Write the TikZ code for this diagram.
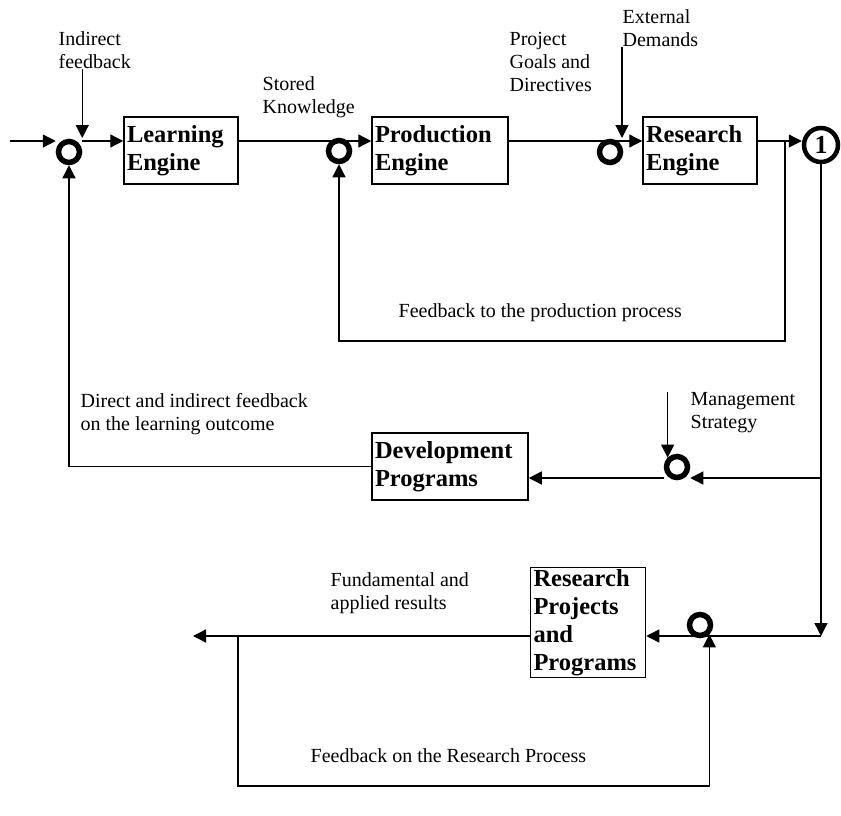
\documentclass[tikz,border=0pt]{standalone}
\usepackage{fontspec}
\setmainfont{Liberation Serif}
\usetikzlibrary{arrows.meta, positioning}

\begin{document}
\begin{tikzpicture}[
    x=1pt, y=-1pt,
    line width=1.3pt,
    flow/.style={-{Triangle[length=13pt,width=13pt]}},
    engine/.style={draw, line width=1.5pt, inner sep=2pt, align=left, font=\fontsize{24.5}{28}\selectfont\bfseries},
    sumnode/.style={circle, draw, fill=white, line width=5.5pt, minimum size=21pt, inner sep=0pt},
    note/.style={anchor=north west, inner sep=0pt, align=left, font=\fontsize{20}{23}\selectfont}
]
\useasboundingbox (0,0) rectangle (841,816);

% Signal rows
\coordinate (row1) at (0,141);
\coordinate (row3) at (0,478);
\coordinate (row4) at (0,636);

% Engines and programs
\node[engine, minimum width=114pt, minimum height=67pt, text width=108pt] (learn) at (181,150.5) {Learning\\Engine};
\node[engine, minimum width=136pt, minimum height=67pt, text width=130pt] (prod) at (440,150.5) {Production\\Engine};
\node[engine, minimum width=114pt, minimum height=67pt, text width=108pt] (res) at (700,150.5) {Research\\Engine};
\node[engine, minimum width=156pt, minimum height=67pt, text width=150pt] (dev) at (450,466.5) {Development\\Programs};
\node[engine, minimum width=115pt, minimum height=109pt, text width=109pt] (rpp) at (588,622.5) {Research\\Projects\\and\\Programs};

% Summing points
\node[sumnode] (s1) at (69,152) {};
\node[sumnode] (s2) at (339,151) {};
\node[sumnode] (s3) at (610,152) {};
\node[sumnode] (s4) at (677,467) {};
\node[sumnode] (s5) at (700,625) {};
\node[sumnode, line width=4.5pt, minimum size=34pt, font=\fontsize{26}{26}\selectfont\bfseries] (c1) at (821,145) {1};

% Labels
\node[note] (lblIndirect) at (58,31) {Indirect\\feedback};
\node[note] (lblStored) at (262,76) {Stored\\Knowledge};
\node[note] (lblGoals) at (509,32) {Project\\Goals and\\Directives};
\node[note] (lblExternal) at (622,9) {External\\Demands};
\node[note] (lblProd) at (398,303) {Feedback to the production process};
\node[note] (lblDirect) at (80,393) {Direct and indirect feedback\\on the learning outcome};
\node[note] (lblMgmt) at (690,392) {Management\\Strategy};
\node[note] (lblResults) at (330,572) {Fundamental and\\applied results};
\node[note] (lblResFb) at (310,748) {Feedback on the Research Process};

% Free ends
\coordinate (in) at (10,141);
\coordinate (out) at (193,636);
\coordinate (pfb) at (785,341);
\coordinate (rfb) at (238,786);

% Top row
\draw[flow] (in) -- (in -| s1.west);
\draw[flow] (s1.east |- row1) -- (learn.west |- row1);
\draw[flow] (learn.east |- row1) -- (prod.west |- row1);
\draw[flow] (prod.east |- row1) -- (res.west |- row1);
\draw[flow] (res.east |- row1) -- (c1.west |- row1);

% Inputs from above
\draw[flow, shorten >=3pt] (lblIndirect.south -| s1.east) -- (s1.east |- row1);
\draw[flow, shorten >=3pt] (lblExternal.south west) -- (lblExternal.south west |- row1);
\draw[flow] (s4.north west |- lblMgmt.north) -- (s4.north west);

% Feedback loops
\draw[flow] (pfb |- row1) -- (pfb) -| (s2.south);
\draw[flow] (dev.west) -| (s1.south);
\draw[flow] (rfb |- row4) -- (rfb) -| (s5.south east);

% Branches from the research engine
\draw[flow] (c1.south) -- (c1.south |- row4);
\draw[flow] (c1.south |- row3) -- (s4.east |- row3);
\draw[flow] (s4.west |- row3) -- (dev.east |- row3);
\draw[flow] (c1.south |- row4) -- (rpp.east |- row4);
\draw[flow] (rpp.west |- row4) -- (out);

\end{tikzpicture}
\end{document}
